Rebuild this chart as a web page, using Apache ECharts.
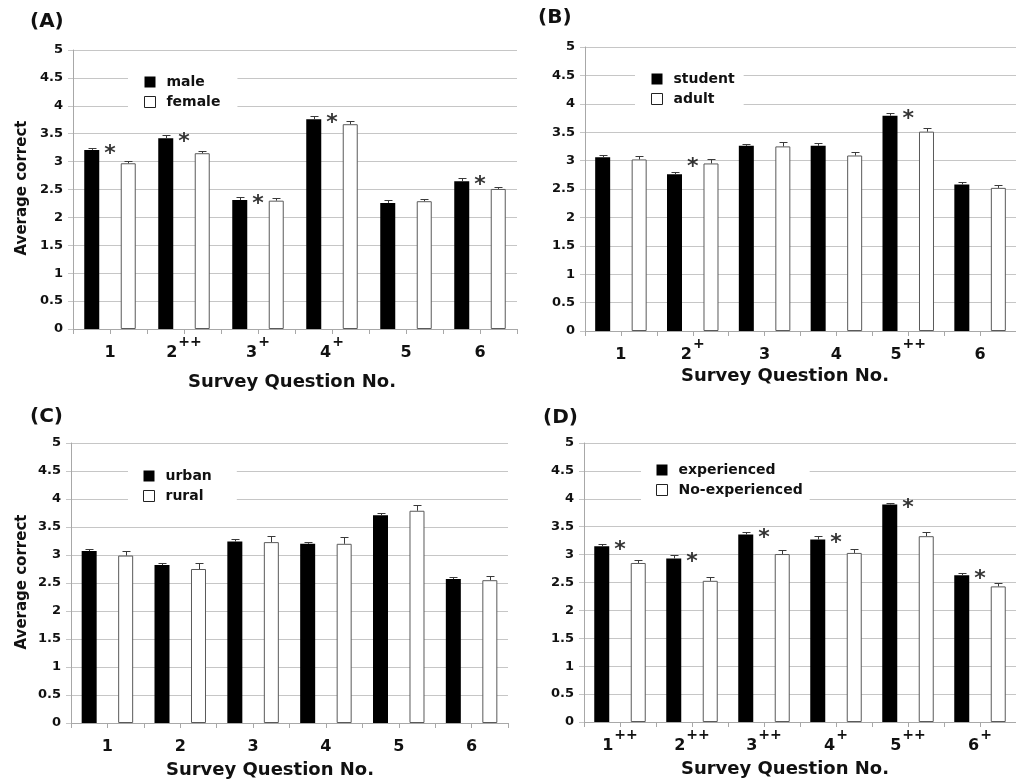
<!DOCTYPE html>
<html>
<head>
<meta charset="utf-8">
<script src="https://cdn.jsdelivr.net/npm/echarts@6/dist/echarts.min.js"></script>
<style>
  html, body { margin: 0; padding: 0; background: #fff; }
  #chart { width: 1016px; height: 780px; }
</style>
</head>
<body>
<div id="chart"></div>
<script>
// ---- data ----
const labelsA = ['1', '2++', '3+', '4+', '5', '6'];
const maleMean = [3.21, 3.42, 2.31, 3.76, 2.26, 2.65];
const maleErr = [0.04, 0.05, 0.05, 0.05, 0.05, 0.05];
const femaleMean = [2.97, 3.15, 2.30, 3.67, 2.29, 2.51];
const femaleErr = [0.04, 0.04, 0.04, 0.05, 0.04, 0.03];
const starsA = [1, 1, 1, 1, 0, 1];

const labelsB = ['1', '2+', '3', '4', '5++', '6'];
const studentMean = [3.06, 2.76, 3.26, 3.26, 3.79, 2.58];
const studentErr = [0.04, 0.04, 0.04, 0.05, 0.04, 0.04];
const adultMean = [3.02, 2.95, 3.25, 3.09, 3.51, 2.52];
const adultErr = [0.065, 0.08, 0.07, 0.065, 0.07, 0.05];
const starsB = [0, 1, 0, 0, 1, 0];

const labelsC = ['1', '2', '3', '4', '5', '6'];
const urbanMean = [3.07, 2.82, 3.24, 3.20, 3.71, 2.57];
const urbanErr = [0.04, 0.04, 0.04, 0.035, 0.04, 0.035];
const ruralMean = [2.99, 2.75, 3.23, 3.20, 3.79, 2.55];
const ruralErr = [0.08, 0.11, 0.11, 0.12, 0.10, 0.08];
const starsC = [0, 0, 0, 0, 0, 0];

const labelsD = ['1++', '2++', '3++', '4+', '5++', '6+'];
const expMean = [3.15, 2.93, 3.36, 3.27, 3.90, 2.63];
const expErr = [0.04, 0.06, 0.05, 0.06, 0.03, 0.035];
const noExpMean = [2.85, 2.53, 3.01, 3.03, 3.33, 2.43];
const noExpErr = [0.05, 0.07, 0.065, 0.07, 0.07, 0.06];
const starsD = [1, 1, 1, 1, 1, 1];

const yTicks = { min: 0, max: 5, interval: 0.5 };

// ---- styling / layout ----
const FONT = 'DejaVu Sans';
const BAR_W = 15;
const GAP = 21.5;
const GRID_LINE = '#c6c6c6';
const AXIS_LINE = '#a8a8a8';

const panels = [
  { tag: '(A)', tagPos: [30, 22], names: ['male', 'female'], labels: labelsA,
    a: maleMean, ae: maleErr, b: femaleMean, be: femaleErr, stars: starsA,
    grid: { left: 73, top: 50, width: 444, height: 279 },
    legend: { left: 128, top: 66, padding: [9, 17, 9, 16] },
    yTitle: [22, 188], xTitle: [292, 382] },
  { tag: '(B)', tagPos: [538, 18], names: ['student', 'adult'], labels: labelsB,
    a: studentMean, ae: studentErr, b: adultMean, be: adultErr, stars: starsB,
    grid: { left: 585, top: 47, width: 436, height: 284 },
    legend: { left: 635, top: 63, padding: [9, 9, 9, 16] },
    yTitle: null, xTitle: [785, 376] },
  { tag: '(C)', tagPos: [30, 417], names: ['urban', 'rural'], labels: labelsC,
    a: urbanMean, ae: urbanErr, b: ruralMean, be: ruralErr, stars: starsC,
    grid: { left: 71, top: 443, width: 437, height: 280 },
    legend: { left: 128, top: 460, padding: [9, 25, 9, 15] },
    yTitle: [22, 582], xTitle: [270, 770] },
  { tag: '(D)', tagPos: [543, 418], names: ['experienced', 'No-experienced'], labels: labelsD,
    a: expMean, ae: expErr, b: noExpMean, be: noExpErr, stars: starsD,
    grid: { left: 584, top: 443, width: 441, height: 279 },
    legend: { left: 641, top: 454, padding: [9, 7, 9, 15] },
    yTitle: null, xTitle: [785, 769] }
];

// category label "2++" -> digit + raised plus signs
function catLabel(s) {
  const m = s.match(/^(\d+)(\+*)$/);
  return m[2] ? '{b|' + m[1] + '}{s|' + m[2] + '}' : '{b|' + m[1] + '}';
}

function errorSeries(gi, means, errs, side) {
  return {
    type: 'custom', xAxisIndex: gi * 2, yAxisIndex: gi, z: 5, silent: true,
    data: means.map((v, i) => [i, v, errs[i]]),
    encode: { x: 0, y: 1 },
    renderItem: function (params, api) {
      const p0 = api.coord([api.value(0), api.value(1)]);
      const p1 = api.coord([api.value(0), api.value(1) + api.value(2)]);
      const x = Math.round(p0[0] + side * (BAR_W + GAP) / 2) + 0.5;
      const yt = Math.round(p1[1]) + 0.5;
      const st = { stroke: '#3a3a3a', lineWidth: 1 };
      return { type: 'group', children: [
        { type: 'line', shape: { x1: x, y1: p0[1], x2: x, y2: yt }, style: st },
        { type: 'line', shape: { x1: x - 4, y1: yt, x2: x + 4, y2: yt }, style: st }
      ] };
    }
  };
}

const option = {
  backgroundColor: '#fff',
  animation: false,
  textStyle: { fontFamily: FONT },
  grid: [], xAxis: [], yAxis: [], series: [], legend: [], graphic: []
};

panels.forEach((p, gi) => {
  option.grid.push(Object.assign({ containLabel: false }, p.grid));

  // boundary ticks + labels
  option.xAxis.push({
    type: 'category', gridIndex: gi, data: p.labels, position: 'bottom',
    axisLine: { lineStyle: { color: AXIS_LINE, width: 1 } },
    axisTick: { show: true, length: 5, interval: 0, lineStyle: { color: AXIS_LINE } },
    axisLabel: {
      interval: 0, margin: 6, color: '#111', formatter: catLabel,
      rich: {
        b: { fontFamily: FONT, fontWeight: 'bold', fontSize: 16, lineHeight: 26, verticalAlign: 'bottom', color: '#111' },
        s: { fontFamily: FONT, fontWeight: 'bold', fontSize: 14, lineHeight: 14, padding: [0, 0, 12, 1],
             verticalAlign: 'bottom', color: '#111' }
      }
    },
    splitLine: { show: false }
  });
  // ticks at category centres
  option.xAxis.push({
    type: 'category', gridIndex: gi, data: p.labels, position: 'bottom',
    axisLine: { show: false },
    axisTick: { show: true, alignWithLabel: true, length: 5, interval: 0, lineStyle: { color: AXIS_LINE } },
    axisLabel: { show: false }, splitLine: { show: false }
  });

  option.yAxis.push({
    type: 'value', gridIndex: gi, min: yTicks.min, max: yTicks.max, interval: yTicks.interval,
    axisLine: { show: true, lineStyle: { color: AXIS_LINE } },
    axisTick: { show: true, length: 5, lineStyle: { color: GRID_LINE } },
    axisLabel: { margin: 10, color: '#111', fontFamily: FONT, fontWeight: 'bold', fontSize: 13 },
    splitLine: { show: true, lineStyle: { color: GRID_LINE, width: 1 } }
  });

  option.series.push({
    name: p.names[0], type: 'bar', xAxisIndex: gi * 2, yAxisIndex: gi,
    data: p.a, barWidth: BAR_W, barGap: (GAP / BAR_W * 100).toFixed(1) + '%',
    itemStyle: { color: '#000' }, silent: true
  });
  option.series.push({
    name: p.names[1], type: 'bar', xAxisIndex: gi * 2, yAxisIndex: gi,
    data: p.b, barWidth: BAR_W,
    itemStyle: { color: '#fff', borderColor: '#5a5a5a', borderWidth: 1 }, silent: true
  });
  option.series.push(errorSeries(gi, p.a, p.ae, -1));
  option.series.push(errorSeries(gi, p.b, p.be, 1));

  // significance markers, placed over the taller bar of each pair
  const starData = [];
  p.stars.forEach((s, i) => { if (s) starData.push([i, Math.max(p.a[i], p.b[i])]); });
  option.series.push({
    type: 'scatter', xAxisIndex: gi * 2, yAxisIndex: gi, z: 6, silent: true,
    data: starData, symbolSize: 1, itemStyle: { color: 'rgba(0,0,0,0)' },
    label: { show: true, formatter: '*', position: 'inside', offset: [0, 4],
      fontFamily: FONT, fontWeight: 'bold', fontSize: 22, color: '#000' }
  });

  option.legend.push(Object.assign({
    orient: 'vertical', itemWidth: 11, itemHeight: 11, itemGap: 6,
    backgroundColor: '#fff', selectedMode: false,
    textStyle: { fontFamily: FONT, fontWeight: 'bold', fontSize: 14, lineHeight: 14, color: '#111', padding: [0, 0, 0, 6] },
    data: [
      { name: p.names[0], icon: 'rect', itemStyle: { color: '#000', borderWidth: 0 } },
      { name: p.names[1], icon: 'rect', itemStyle: { color: '#fff', borderColor: '#222', borderWidth: 1 } }
    ]
  }, p.legend));

  option.graphic.push({
    type: 'text', x: p.tagPos[0], y: p.tagPos[1],
    style: { text: p.tag, font: 'bold 20px "' + FONT + '"', fill: '#111', textVerticalAlign: 'middle' }
  });
  option.graphic.push({
    type: 'text', x: p.xTitle[0], y: p.xTitle[1],
    style: { text: 'Survey Question No.', font: 'bold 18px "' + FONT + '"', fill: '#111',
      textAlign: 'center', textVerticalAlign: 'middle' }
  });
  if (p.yTitle) {
    option.graphic.push({
      type: 'text', x: p.yTitle[0], y: p.yTitle[1], rotation: Math.PI / 2,
      style: { text: 'Average correct', font: 'bold 15px "' + FONT + '"', fill: '#111',
        textAlign: 'center', textVerticalAlign: 'middle' }
    });
  }
});

const chart = echarts.init(document.getElementById('chart'), null, { renderer: 'canvas' });
chart.setOption(option);
</script>
</body>
</html>
